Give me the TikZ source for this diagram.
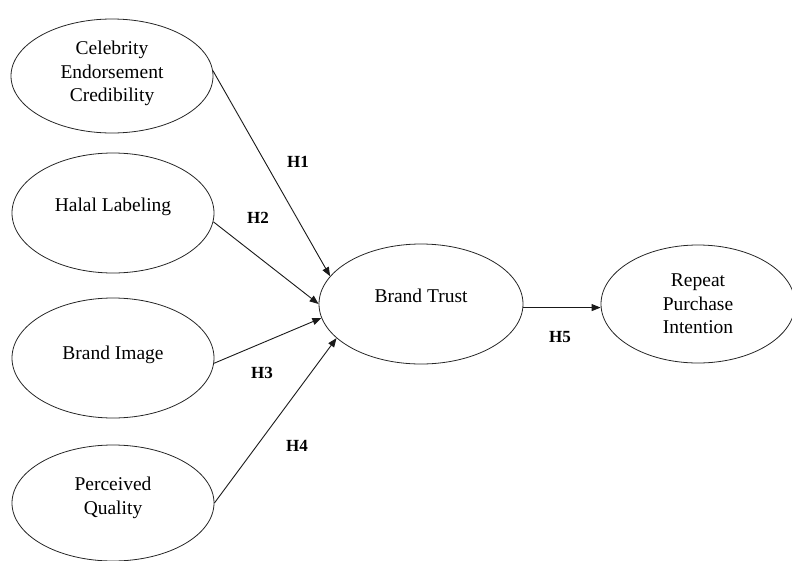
\documentclass[tikz,border=0pt]{standalone}
\usepackage{fontspec}
\setmainfont{Liberation Serif}
\usetikzlibrary{shapes.geometric,arrows.meta}
\tikzset{
  ell/.style={draw=black!85, line width=0.8pt, ellipse, inner sep=0pt,
              minimum width=202pt, minimum height=118pt},
  txt/.style={font=\fontsize{19.5}{23.5}\selectfont, align=center, inner sep=0pt},
  hlab/.style={font=\fontsize{17}{20}\selectfont\bfseries, inner sep=0pt},
  conn/.style={draw=black!90, line width=0.9pt, -{Triangle[length=9pt,width=7pt]}}
}
\begin{document}
\begin{tikzpicture}[x=1pt,y=-1pt]
\useasboundingbox (0,0) rectangle (792,560);
\node[ell, minimum height=114pt, label={[txt,yshift=2.5pt]center:Celebrity\\Endorsement\\Credibility}] (cel) at (112,76) {};
\node[ell, minimum height=120pt, label={[txt,yshift=6pt]center:Halal Labeling}] (hal) at (113,213) {};
\node[ell, minimum height=120pt, label={[txt,yshift=3.5pt]center:Brand Image}] (bim) at (113,358) {};
\node[ell, minimum height=116pt, label={[txt,yshift=5pt]center:Perceived\\Quality}] (pq) at (113,503) {};
\node[ell, minimum width=204pt, minimum height=120pt, label={[txt,yshift=8pt]center:Brand Trust}] (bt) at (421,304) {};
\node[ell, minimum width=194pt, minimum height=118pt, label={[txt]center:Repeat\\Purchase\\Intention}] (rpi) at (698,304) {};

\draw[conn] (cel.3) -- (bt.163);
\draw[conn] (hal.-5) -- (bt.180);
\draw[conn] (bim.-3) -- (bt.188);
\draw[conn] (pq.0) -- (bt.202);
\draw[conn] (bt.-2) -- (bt.-2 -| rpi.west);

\node[hlab] (h1) at (298,162) {H1};
\node[hlab] (h2) at (258,218) {H2};
\node[hlab] (h3) at (262,373) {H3};
\node[hlab] (h4) at (297,446) {H4};
\node[hlab] (h5) at (560,337) {H5};
\end{tikzpicture}
\end{document}
